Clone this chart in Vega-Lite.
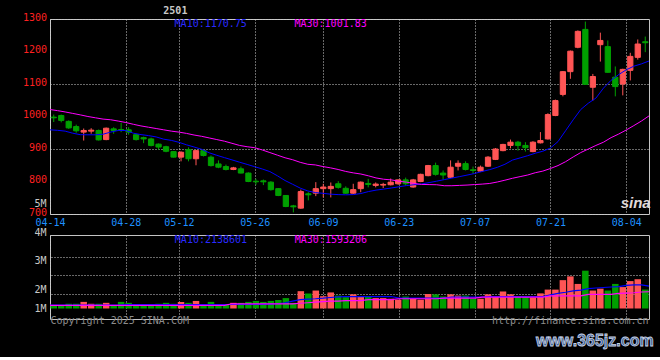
{
"$schema": "https://vega.github.io/schema/vega-lite/v6.json",
"background": "#000000",
"padding": {"left": 22, "top": 5, "right": 6, "bottom": 7},
"bounds": "flush",
"spacing": 21,
"datasets": {"k": [
{"d":"04-14","o":998,"h":1006,"l":983,"c":996,"v":300000,"m10":959,"m30":1021.5,"vm10":330000,"vm30":300000},
{"d":"04-15","o":1003,"h":1006,"l":982,"c":988,"v":330000,"m10":957.5,"m30":1018,"vm10":330000,"vm30":300000},
{"d":"04-16","o":985,"h":988,"l":962,"c":965,"v":450000,"m10":955,"m30":1014,"vm10":330000,"vm30":300000},
{"d":"04-17","o":969,"h":975,"l":950,"c":956,"v":450000,"m10":948.6,"m30":1009.5,"vm10":330000,"vm30":300000},
{"d":"04-18","o":952,"h":963,"l":926,"c":957,"v":630000,"m10":944,"m30":1005,"vm10":330000,"vm30":300000},
{"d":"04-21","o":955,"h":964,"l":947,"c":958,"v":450000,"m10":943.7,"m30":1000,"vm10":330000,"vm30":300000},
{"d":"04-22","o":957,"h":960,"l":926,"c":928,"v":450000,"m10":943.7,"m30":996,"vm10":330000,"vm30":300000},
{"d":"04-23","o":929,"h":966,"l":927,"c":964,"v":540000,"m10":945.5,"m30":992,"vm10":330000,"vm30":300000},
{"d":"04-24","o":962,"h":967,"l":947,"c":957,"v":300000,"m10":952,"m30":990,"vm10":330000,"vm30":300000},
{"d":"04-25","o":960,"h":981,"l":952,"c":957,"v":630000,"m10":957,"m30":986,"vm10":330000,"vm30":300000},
{"d":"04-28","o":959,"h":967,"l":944,"c":952,"v":540000,"m10":957,"m30":981.5,"vm10":360000,"vm30":300000},
{"d":"04-29","o":944,"h":947,"l":926,"c":929,"v":390000,"m10":948.6,"m30":976,"vm10":360000,"vm30":300000},
{"d":"04-30","o":935,"h":938,"l":918,"c":931,"v":390000,"m10":944.3,"m30":971,"vm10":360000,"vm30":300000},
{"d":"05-06","o":931,"h":935,"l":908,"c":911,"v":390000,"m10":941.2,"m30":967,"vm10":360000,"vm30":300000},
{"d":"05-07","o":915,"h":917,"l":898,"c":906,"v":450000,"m10":937.2,"m30":963,"vm10":360000,"vm30":300000},
{"d":"05-08","o":907,"h":910,"l":890,"c":893,"v":540000,"m10":930.2,"m30":959,"vm10":360000,"vm30":300000},
{"d":"05-09","o":892,"h":893,"l":874,"c":875,"v":450000,"m10":926.5,"m30":955,"vm10":360000,"vm30":300000},
{"d":"05-12","o":875,"h":893,"l":862,"c":890,"v":630000,"m10":920.6,"m30":952,"vm10":360000,"vm30":300000},
{"d":"05-13","o":898,"h":905,"l":862,"c":870,"v":540000,"m10":912.9,"m30":948,"vm10":360000,"vm30":300000},
{"d":"05-14","o":870,"h":897,"l":850,"c":895,"v":720000,"m10":906.2,"m30":943,"vm10":360000,"vm30":300000},
{"d":"05-15","o":895,"h":898,"l":877,"c":880,"v":390000,"m10":899.1,"m30":939,"vm10":360000,"vm30":300000},
{"d":"05-16","o":875,"h":880,"l":846,"c":849,"v":630000,"m10":888.3,"m30":934,"vm10":380000,"vm30":300000},
{"d":"05-19","o":854,"h":865,"l":841,"c":844,"v":390000,"m10":880.6,"m30":929,"vm10":380000,"vm30":300000},
{"d":"05-20","o":846,"h":852,"l":834,"c":837,"v":390000,"m10":873.5,"m30":924,"vm10":380000,"vm30":300000},
{"d":"05-21","o":837,"h":845,"l":835,"c":842,"v":540000,"m10":866.5,"m30":917.5,"vm10":380000,"vm30":450000},
{"d":"05-22","o":839,"h":846,"l":825,"c":826,"v":540000,"m10":859.4,"m30":911,"vm10":380000,"vm30":450000},
{"d":"05-23","o":826,"h":828,"l":798,"c":800,"v":630000,"m10":852.6,"m30":907,"vm10":380000,"vm30":450000},
{"d":"05-26","o":801,"h":808,"l":790,"c":799,"v":720000,"m10":845.5,"m30":904,"vm10":380000,"vm30":450000},
{"d":"05-27","o":802,"h":806,"l":789,"c":799,"v":630000,"m10":838.5,"m30":897,"vm10":400000,"vm30":450000},
{"d":"05-28","o":798,"h":801,"l":772,"c":775,"v":720000,"m10":830.5,"m30":889,"vm10":420000,"vm30":450000},
{"d":"05-29","o":778,"h":780,"l":755,"c":757,"v":810000,"m10":817.5,"m30":881,"vm10":450000,"vm30":450000},
{"d":"05-30","o":757,"h":758,"l":721,"c":723,"v":990000,"m10":803,"m30":873,"vm10":550000,"vm30":450000},
{"d":"06-03","o":725,"h":728,"l":705,"c":722,"v":540000,"m10":791.4,"m30":867,"vm10":700000,"vm30":450000},
{"d":"06-04","o":718,"h":775,"l":716,"c":769,"v":1650000,"m10":779.7,"m30":859,"vm10":840000,"vm30":500000},
{"d":"06-05","o":762,"h":767,"l":742,"c":759,"v":1440000,"m10":771,"m30":853,"vm10":900000,"vm30":550000},
{"d":"06-06","o":764,"h":798,"l":755,"c":778,"v":1710000,"m10":766,"m30":851,"vm10":930000,"vm30":600000},
{"d":"06-09","o":778,"h":793,"l":751,"c":783,"v":1170000,"m10":763.7,"m30":846,"vm10":980000,"vm30":650000},
{"d":"06-10","o":778,"h":797,"l":751,"c":785,"v":1530000,"m10":761,"m30":842,"vm10":1050000,"vm30":700000},
{"d":"06-11","o":793,"h":801,"l":778,"c":782,"v":1230000,"m10":759.7,"m30":837,"vm10":1100000,"vm30":700000},
{"d":"06-12","o":779,"h":785,"l":762,"c":764,"v":1080000,"m10":759,"m30":831,"vm10":1140000,"vm30":750000},
{"d":"06-13","o":764,"h":793,"l":762,"c":775,"v":1350000,"m10":759.7,"m30":826.5,"vm10":1140000,"vm30":750000},
{"d":"06-16","o":778,"h":800,"l":767,"c":798,"v":1140000,"m10":763,"m30":823,"vm10":1140000,"vm30":750000},
{"d":"06-17","o":794,"h":808,"l":782,"c":791,"v":1140000,"m10":769,"m30":817.5,"vm10":1140000,"vm30":840000},
{"d":"06-18","o":788,"h":797,"l":782,"c":792,"v":990000,"m10":773.5,"m30":811,"vm10":1140000,"vm30":840000},
{"d":"06-19","o":789,"h":796,"l":780,"c":791,"v":990000,"m10":776.6,"m30":807,"vm10":1140000,"vm30":840000},
{"d":"06-20","o":790,"h":809,"l":788,"c":798,"v":930000,"m10":780,"m30":805,"vm10":1140000,"vm30":840000},
{"d":"06-23","o":793,"h":806,"l":790,"c":805,"v":840000,"m10":783.7,"m30":801,"vm10":990000,"vm30":930000},
{"d":"06-24","o":805,"h":812,"l":788,"c":793,"v":1140000,"m10":787.4,"m30":798,"vm10":990000,"vm30":930000},
{"d":"06-25","o":783,"h":808,"l":781,"c":805,"v":930000,"m10":790,"m30":794,"vm10":990000,"vm30":930000},
{"d":"06-26","o":800,"h":824,"l":798,"c":822,"v":840000,"m10":792.3,"m30":791,"vm10":990000,"vm30":930000},
{"d":"06-27","o":818,"h":851,"l":816,"c":849,"v":1380000,"m10":796.6,"m30":790.5,"vm10":990000,"vm30":930000},
{"d":"06-30","o":849,"h":858,"l":818,"c":822,"v":1350000,"m10":801,"m30":790,"vm10":990000,"vm30":930000},
{"d":"07-01","o":826,"h":834,"l":806,"c":820,"v":1140000,"m10":805.8,"m30":787,"vm10":990000,"vm30":990000},
{"d":"07-02","o":813,"h":865,"l":811,"c":844,"v":1350000,"m10":810.5,"m30":787,"vm10":1080000,"vm30":990000},
{"d":"07-03","o":847,"h":865,"l":834,"c":856,"v":1230000,"m10":815,"m30":788,"vm10":1080000,"vm30":990000},
{"d":"07-04","o":855,"h":862,"l":834,"c":837,"v":1230000,"m10":819.7,"m30":789,"vm10":1080000,"vm30":990000},
{"d":"07-07","o":836,"h":846,"l":824,"c":834,"v":930000,"m10":824.6,"m30":790.5,"vm10":1080000,"vm30":990000},
{"d":"07-08","o":832,"h":849,"l":830,"c":844,"v":930000,"m10":830.8,"m30":792,"vm10":1080000,"vm30":1080000},
{"d":"07-09","o":847,"h":878,"l":845,"c":875,"v":1350000,"m10":836.6,"m30":794,"vm10":1140000,"vm30":1080000},
{"d":"07-10","o":868,"h":903,"l":866,"c":900,"v":1140000,"m10":843.7,"m30":798.5,"vm10":1140000,"vm30":1080000},
{"d":"07-11","o":895,"h":916,"l":893,"c":914,"v":1620000,"m10":853,"m30":804,"vm10":1140000,"vm30":1080000},
{"d":"07-14","o":911,"h":929,"l":902,"c":921,"v":1350000,"m10":866,"m30":810,"vm10":1140000,"vm30":1080000},
{"d":"07-15","o":921,"h":925,"l":895,"c":911,"v":1140000,"m10":872.6,"m30":815,"vm10":1140000,"vm30":1080000},
{"d":"07-16","o":911,"h":921,"l":892,"c":904,"v":1140000,"m10":879.4,"m30":820,"vm10":1140000,"vm30":1080000},
{"d":"07-17","o":892,"h":924,"l":890,"c":921,"v":1050000,"m10":887,"m30":827,"vm10":1140000,"vm30":1080000},
{"d":"07-18","o":919,"h":952,"l":917,"c":926,"v":1440000,"m10":893.2,"m30":832,"vm10":1140000,"vm30":1080000},
{"d":"07-21","o":931,"h":1010,"l":929,"c":1006,"v":1800000,"m10":903,"m30":840,"vm10":1300000,"vm30":1200000},
{"d":"07-22","o":1003,"h":1052,"l":1001,"c":1049,"v":1800000,"m10":922.8,"m30":849,"vm10":1440000,"vm30":1200000},
{"d":"07-23","o":1068,"h":1140,"l":1062,"c":1138,"v":2700000,"m10":956.3,"m30":861,"vm10":1550000,"vm30":1200000},
{"d":"07-24","o":1138,"h":1203,"l":1116,"c":1201,"v":3060000,"m10":989.8,"m30":875.5,"vm10":1680000,"vm30":1200000},
{"d":"07-25","o":1213,"h":1265,"l":1210,"c":1262,"v":2340000,"m10":1021.5,"m30":889,"vm10":1750000,"vm30":1200000},
{"d":"07-28","o":1268,"h":1292,"l":1097,"c":1099,"v":3600000,"m10":1041,"m30":900,"vm10":1900000,"vm30":1350000},
{"d":"07-29","o":1090,"h":1131,"l":1049,"c":1123,"v":1710000,"m10":1056.6,"m30":911,"vm10":1950000,"vm30":1350000},
{"d":"07-30","o":1221,"h":1258,"l":1169,"c":1234,"v":1890000,"m10":1087.4,"m30":921,"vm10":2000000,"vm30":1350000},
{"d":"07-31","o":1215,"h":1234,"l":1135,"c":1136,"v":1710000,"m10":1111.4,"m30":935,"vm10":2050000,"vm30":1350000},
{"d":"08-01","o":1121,"h":1154,"l":1062,"c":1092,"v":2340000,"m10":1128.9,"m30":946,"vm10":2080000,"vm30":1440000},
{"d":"08-04","o":1100,"h":1147,"l":1065,"c":1145,"v":2040000,"m10":1143.7,"m30":958.5,"vm10":2200000,"vm30":1470000},
{"d":"08-05","o":1142,"h":1196,"l":1111,"c":1185,"v":2610000,"m10":1154.8,"m30":972,"vm10":2250000,"vm30":1500000},
{"d":"08-06","o":1182,"h":1237,"l":1175,"c":1223,"v":2790000,"m10":1161.9,"m30":986,"vm10":2250000,"vm30":1570000},
{"d":"08-07","o":1230,"h":1246,"l":1198,"c":1227,"v":1800000,"m10":1170.75,"m30":1001.83,"vm10":2138601,"vm30":1593206}
]},
"vconcat": [
{
 "width": 599, "height": 195,
 "data": {"name": "k"},
 "layer": [
  {"layer": [
   {"mark": {"type": "rule", "strokeWidth": 1},
    "encoding": {
     "x": {"field": "d", "type": "ordinal", "scale": {"type": "band", "paddingInner": 0.3, "paddingOuter": 0.15}, "axis": null},
     "y": {"field": "l", "type": "quantitative", "scale": {"domain": [700, 1300]},
           "axis": {"values": [700,800,900,1000,1100,1200,1300], "title": null, "labels": false, "grid": true}},
     "y2": {"field": "h"},
     "color": {"condition": {"test": "datum.c >= datum.o", "value": "#ff5555"}, "value": "#00a000"}
    }},
   {"mark": {"type": "bar", "strokeWidth": 1},
    "encoding": {
     "x": {"field": "d", "type": "ordinal"},
     "y": {"field": "o", "type": "quantitative"},
     "y2": {"field": "c"},
     "color": {"condition": {"test": "datum.c >= datum.o", "value": "#ff5555"}, "value": "#00a000"},
     "stroke": {"condition": {"test": "datum.c >= datum.o", "value": "#ff5555"}, "value": "#00a000"}
    }},
   {"data": {"values": [{"p": 700}, {"p": 800}, {"p": 900}, {"p": 1000}, {"p": 1100}, {"p": 1200}, {"p": 1300}]},
    "mark": {"type": "text", "align": "right", "baseline": "middle", "dx": -4, "dy": -1.5, "color": "#ff2020"},
    "encoding": {"x": {"datum": "04-14", "bandPosition": 0}, "y": {"field": "p", "type": "quantitative"}, "text": {"field": "p", "type": "quantitative", "format": "d"}}},
   {"data": {"values": [{}]},
    "mark": {"type": "text", "text": "MA10:1170.75", "align": "left", "baseline": "middle", "color": "#2a2aff"},
    "encoding": {"x": {"datum": "05-09", "bandPosition": 0.7}, "y": {"datum": 1285, "type": "quantitative"}}},
   {"data": {"values": [{}]},
    "mark": {"type": "text", "text": "MA30:1001.83", "align": "left", "baseline": "middle", "color": "#ff00ff"},
    "encoding": {"x": {"datum": "06-03", "bandPosition": 0.72}, "y": {"datum": 1285, "type": "quantitative"}}},
   {"data": {"values": [{}]},
    "mark": {"type": "text", "text": "2501", "align": "center", "baseline": "middle", "color": "#c8c8c8", "fontWeight": "bold"},
    "encoding": {"x": {"datum": "05-09", "bandPosition": 0.85}, "y": {"datum": 1325, "type": "quantitative"}}},
   {"data": {"values": [{}]},
    "mark": {"type": "text", "text": "sina", "align": "center", "baseline": "middle", "color": "#e0dada", "font": "Liberation Sans", "fontSize": 15, "fontWeight": "bold", "fontStyle": "italic"},
    "encoding": {"x": {"datum": "08-06", "bandPosition": 0.1}, "y": {"datum": 734, "type": "quantitative"}}}
  ]},
  {"layer": [
   {"mark": {"type": "line", "color": "#0000ff", "strokeWidth": 1},
    "encoding": {
     "x": {"field": "d", "type": "ordinal", "scale": {"type": "point", "padding": 0},
           "axis": {"orient": "bottom", "values": ["04-14","04-28","05-12","05-26","06-09","06-23","07-07","07-21","08-04"], "title": null, "labelOverlap": false, "labelColor": "#1e90ff", "grid": true, "labelPadding": 3, "labelFlush": false, "labelAngle": 0}},
     "y": {"field": "m10", "type": "quantitative", "axis": null}
    }},
   {"mark": {"type": "line", "color": "#ff00ff", "strokeWidth": 1},
    "encoding": {
     "x": {"field": "d", "type": "ordinal"},
     "y": {"field": "m30", "type": "quantitative", "axis": null}
    }}
  ]}
 ],
 "resolve": {"scale": {"x": "independent"}, "axis": {"y": "independent"}}
},
{
 "width": 599, "height": 84,
 "data": {"name": "k"},
 "layer": [
  {"layer": [
   {"mark": {"type": "bar"},
    "encoding": {
     "x": {"field": "d", "type": "ordinal", "scale": {"type": "band", "paddingInner": 0.13, "paddingOuter": 0.065}, "axis": null},
     "y": {"field": "v", "type": "quantitative", "stack": null, "scale": {"domain": [-630000, 6940000]},
           "axis": {"values": [0, 1800000, 4590000], "labelOverlap": false, "labelExpr": "datum.value == 0 ? '1M' : datum.value == 1800000 ? '2M' : '3M'", "title": null, "labelColor": "#c8c8c8", "grid": false, "labelPadding": 4}},
     "color": {"condition": {"test": "datum.c >= datum.o", "value": "#ff5555"}, "value": "#00a000"}
    }},
   {"data": {"values": [{}]},
    "mark": {"type": "text", "text": "4M", "align": "right", "baseline": "middle", "dx": -4, "dy": 1, "color": "#c8c8c8"},
    "encoding": {"x": {"datum": "04-14", "bandPosition": 0}, "y": {"datum": 7300000, "type": "quantitative"}}},
   {"data": {"values": [{}]},
    "mark": {"type": "text", "text": "5M", "align": "right", "baseline": "middle", "dx": -4, "color": "#c8c8c8"},
    "encoding": {"x": {"datum": "04-14", "bandPosition": 0}, "y": {"datum": 10000000, "type": "quantitative"}}},
   {"data": {"values": [{}]},
    "mark": {"type": "text", "text": "MA10:2138601", "align": "left", "baseline": "middle", "color": "#2a2aff"},
    "encoding": {"x": {"datum": "05-09", "bandPosition": 0.7}, "y": {"datum": 6530000, "type": "quantitative"}}},
   {"data": {"values": [{}]},
    "mark": {"type": "text", "text": "MA30:1593206", "align": "left", "baseline": "middle", "color": "#ff00ff"},
    "encoding": {"x": {"datum": "06-03", "bandPosition": 0.72}, "y": {"datum": 6530000, "type": "quantitative"}}},
   {"data": {"values": [{}]},
    "mark": {"type": "text", "text": "Copyright 2025 SINA.COM", "align": "left", "baseline": "middle", "color": "#8c8c8c"},
    "encoding": {"x": {"datum": "04-14", "bandPosition": 0}, "y": {"datum": -1170000, "type": "quantitative"}}},
   {"data": {"values": [{}]},
    "mark": {"type": "text", "text": "http://finance.sina.com.cn", "align": "right", "baseline": "middle", "color": "#8c8c8c"},
    "encoding": {"x": {"datum": "08-07", "bandPosition": 1}, "y": {"datum": -1170000, "type": "quantitative"}}},
   {"data": {"values": [{}]},
    "mark": {"type": "text", "text": "www.365jz.com", "align": "center", "baseline": "middle", "color": "#3d5f95", "stroke": "#c8d2e4", "strokeWidth": 0.8, "font": "Liberation Sans", "fontSize": 16, "fontWeight": "bold"},
    "encoding": {"x": {"datum": "07-29", "bandPosition": 0.8}, "y": {"datum": -3060000, "type": "quantitative"}}}
  ]},
  {"layer": [
   {"mark": {"type": "line", "color": "#0000ff", "strokeWidth": 1.2},
    "encoding": {
     "x": {"field": "d", "type": "ordinal", "scale": {"type": "point", "padding": 0},
           "axis": {"orient": "bottom", "values": ["04-14","04-28","05-12","05-26","06-09","06-23","07-07","07-21","08-04"], "title": null, "labels": false, "grid": true}},
     "y": {"field": "vm10", "type": "quantitative",
           "axis": {"values": [1350000, 3150000, 4950000], "title": null, "labels": false, "grid": true, "orient": "right"}}
    }},
   {"mark": {"type": "line", "color": "#ff00ff", "strokeWidth": 1.2},
    "encoding": {
     "x": {"field": "d", "type": "ordinal"},
     "y": {"field": "vm30", "type": "quantitative"}
    }}
  ]}
 ],
 "resolve": {"scale": {"x": "independent"}, "axis": {"y": "independent"}}
}
],
"config": {
 "view": {"stroke": "#c4c4c4", "strokeWidth": 1},
 "axis": {"domain": false, "ticks": false, "tickSize": 0, "labelFont": "DejaVu Sans Mono", "labelFontSize": 10, "gridColor": "#d0d0d0", "gridDash": [1, 2], "gridWidth": 1, "labelOverlap": false},
 "text": {"font": "DejaVu Sans Mono", "fontSize": 10}
}
}
